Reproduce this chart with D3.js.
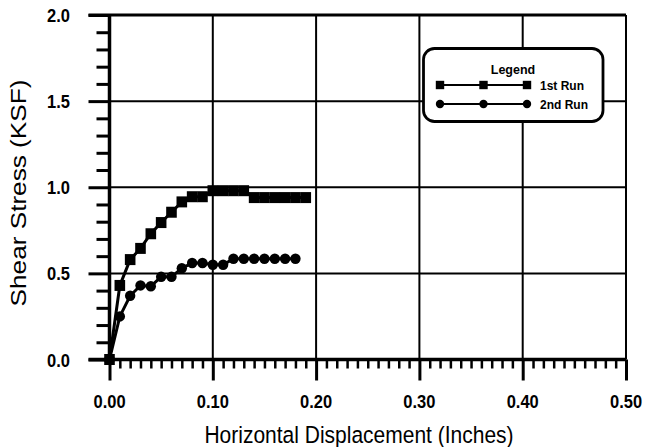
<!DOCTYPE html>
<html>
<head>
<meta charset="utf-8">
<script src="https://cdn.jsdelivr.net/npm/d3@7"></script>
<style>
  html, body { margin: 0; padding: 0; background: #fff; }
  svg { display: block; }
  text { font-family: "Liberation Sans", Arial, Helvetica, sans-serif; fill: #000; }
</style>
</head>
<body>
<svg id="chart" width="646" height="447"></svg>
<script>
// Direct shear test: shear stress vs horizontal displacement
const run1X = [0, 0.01, 0.02, 0.03, 0.04, 0.05, 0.06, 0.07, 0.08, 0.09,
               0.10, 0.11, 0.12, 0.13, 0.14, 0.15, 0.16, 0.17, 0.18, 0.19];
const run1Y = [0, 0.43, 0.58, 0.645, 0.73, 0.795, 0.855, 0.915, 0.945, 0.945,
               0.98, 0.98, 0.98, 0.98, 0.94, 0.94, 0.94, 0.94, 0.94, 0.94];
const run2X = [0, 0.01, 0.02, 0.03, 0.04, 0.05, 0.06, 0.07, 0.08, 0.09,
               0.10, 0.11, 0.12, 0.13, 0.14, 0.15, 0.16, 0.17, 0.18];
const run2Y = [0, 0.25, 0.37, 0.43, 0.425, 0.48, 0.48, 0.53, 0.56, 0.56,
               0.55, 0.55, 0.585, 0.585, 0.585, 0.585, 0.585, 0.585, 0.585];

const seriesNames = ["1st Run", "2nd Run"];
const xTickValues = [0, 0.1, 0.2, 0.3, 0.4, 0.5];
const xTickLabels = ["0.00", "0.10", "0.20", "0.30", "0.40", "0.50"];
const yTickValues = [0, 0.5, 1.0, 1.5, 2.0];
const yTickLabels = ["0.0", "0.5", "1.0", "1.5", "2.0"];
const xTitle = "Horizontal Displacement (Inches)";
const yTitle = "Shear Stress (KSF)";
const legendTitle = "Legend";

const svg = d3.select("#chart");
const x = d3.scaleLinear().domain([0, 0.5]).range([109.5, 626]);
const y = d3.scaleLinear().domain([0, 2]).range([359.5, 15]);

// grid
const grid = svg.append("g").attr("stroke", "#000").attr("stroke-width", 2);
grid.selectAll("line.v").data(xTickValues.slice(1)).join("line")
  .attr("class", "v")
  .attr("x1", d => x(d)).attr("x2", d => x(d))
  .attr("y1", y(2)).attr("y2", y(0));
grid.selectAll("line.h").data(yTickValues.slice(1)).join("line")
  .attr("class", "h")
  .attr("x1", x(0)).attr("x2", x(0.5))
  .attr("y1", d => y(d)).attr("y2", d => y(d));

// minor and major ticks through d3 axes
const yMinor = d3.range(1, 20).map(i => i / 10).filter(v => Math.abs(v * 2 - Math.round(v * 2)) > 1e-6);
const xMinor = d3.range(1, 50).map(i => i / 100).filter(v => Math.abs(v * 10 - Math.round(v * 10)) > 1e-6);

function styleAxis(g, w) {
  g.select(".domain").remove();
  g.selectAll(".tick line").attr("stroke", "#000").attr("stroke-width", w);
  g.selectAll(".tick text").remove();
}

svg.append("g").attr("transform", `translate(${x(0)},0)`)
  .call(d3.axisLeft(y).tickValues(yMinor).tickSize(13))
  .call(g => styleAxis(g, 3));
svg.append("g").attr("transform", `translate(${x(0)},0)`)
  .call(d3.axisLeft(y).tickValues(yTickValues).tickSize(21))
  .call(g => styleAxis(g, 3));
svg.append("g").attr("transform", `translate(0,${y(0)})`)
  .call(d3.axisBottom(x).tickValues(xMinor).tickSize(9))
  .call(g => styleAxis(g, 2.5));
svg.append("g").attr("transform", `translate(0,${y(0)})`)
  .call(d3.axisBottom(x).tickValues(xTickValues).tickSize(21))
  .call(g => styleAxis(g, 3));

// axis lines
svg.append("line").attr("x1", x(0)).attr("x2", x(0)).attr("y1", y(2)).attr("y2", y(0) + 1.5)
  .attr("stroke", "#000").attr("stroke-width", 3.5);
svg.append("line").attr("x1", x(0) - 21).attr("x2", x(0.5)).attr("y1", y(0)).attr("y2", y(0))
  .attr("stroke", "#000").attr("stroke-width", 3.5);
svg.append("line").attr("x1", x(0) - 21).attr("x2", x(0.5)).attr("y1", y(2)).attr("y2", y(2))
  .attr("stroke", "#000").attr("stroke-width", 3);

// tick labels
svg.selectAll("text.xl").data(xTickValues).join("text")
  .attr("class", "xl")
  .attr("transform", d => `translate(${x(d)},408) scale(1,1.15)`)
  .attr("text-anchor", "middle")
  .attr("font-size", 16.5).attr("font-weight", "bold")
  .text((d, i) => xTickLabels[i]);
svg.selectAll("text.yl").data(yTickValues).join("text")
  .attr("class", "yl")
  .attr("transform", d => `translate(70,${y(d) + 7}) scale(1,1.15)`)
  .attr("text-anchor", "end")
  .attr("font-size", 16.5).attr("font-weight", "bold")
  .text((d, i) => yTickLabels[i]);

// axis titles
svg.append("text")
  .attr("transform", "translate(359,443) scale(1,1.17)")
  .attr("text-anchor", "middle").attr("font-size", 21)
  .text(xTitle);
svg.append("text")
  .attr("transform", "translate(26,193) rotate(-90) scale(1.19,1)")
  .attr("text-anchor", "middle").attr("font-size", 22)
  .text(yTitle);

// series
const line = d3.line().x(d => x(d[0])).y(d => y(d[1]));
const run1 = run1X.map((v, i) => [v, run1Y[i]]);
const run2 = run2X.map((v, i) => [v, run2Y[i]]);

svg.append("path").datum(run2).attr("d", line)
  .attr("fill", "none").attr("stroke", "#000").attr("stroke-width", 3);
svg.append("path").datum(run1).attr("d", line)
  .attr("fill", "none").attr("stroke", "#000").attr("stroke-width", 3);

svg.selectAll("circle.r2").data(run2).join("circle")
  .attr("class", "r2")
  .attr("cx", d => x(d[0])).attr("cy", d => y(d[1])).attr("r", 5.2)
  .attr("fill", "#000");
svg.selectAll("rect.r1").data(run1).join("rect")
  .attr("class", "r1")
  .attr("x", d => x(d[0]) - 5.3).attr("y", d => y(d[1]) - 5.5)
  .attr("width", 10.6).attr("height", 11)
  .attr("fill", "#000");

// legend
const lg = svg.append("g");
lg.append("rect").attr("x", 423.5).attr("y", 48.5).attr("width", 179.5).attr("height", 73)
  .attr("rx", 11).attr("ry", 11)
  .attr("fill", "#fff").attr("stroke", "#000").attr("stroke-width", 2.8);
lg.append("text").attr("x", 513).attr("y", 74)
  .attr("text-anchor", "middle").attr("font-size", 12.5).attr("font-weight", "bold")
  .text(legendTitle);
const rows = [85, 104];
const markerX = [440, 483.5, 527];
rows.forEach((ry, i) => {
  lg.append("line").attr("x1", markerX[0]).attr("x2", markerX[2]).attr("y1", ry).attr("y2", ry)
    .attr("stroke", "#000").attr("stroke-width", 2.2);
  markerX.forEach(mx => {
    if (i === 0) {
      lg.append("rect").attr("x", mx - 4.2).attr("y", ry - 4.2).attr("width", 8.4).attr("height", 8.4).attr("fill", "#000");
    } else {
      lg.append("circle").attr("cx", mx).attr("cy", ry).attr("r", 4.2).attr("fill", "#000");
    }
  });
  lg.append("text").attr("x", 540).attr("y", ry + 4.5)
    .attr("font-size", 12).attr("font-weight", "bold")
    .text(seriesNames[i]);
});
</script>
</body>
</html>
